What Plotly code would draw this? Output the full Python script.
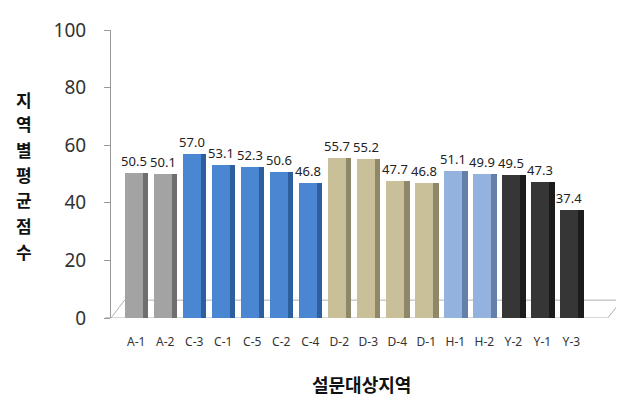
import plotly.graph_objects as go

categories = ["A-1", "A-2", "C-3", "C-1", "C-5", "C-2", "C-4", "D-2", "D-3", "D-4", "D-1",
              "H-1", "H-2", "Y-2", "Y-1", "Y-3"]
scores = [50.5, 50.1, 57.0, 53.1, 52.3, 50.6, 46.8, 55.7, 55.2, 47.7, 46.8, 51.1, 49.9, 49.5, 47.3, 37.4]
groups = ["A", "A", "C", "C", "C", "C", "C", "D", "D", "D", "D", "H", "H", "Y", "Y", "Y"]
y_ticks = [0, 20, 40, 60, 80, 100]
y_title_chars = ["지", "역", "별", "평", "균", "점", "수"]
x_title = "설문대상지역"

front_col = {"A": "#a3a3a3", "C": "#4a86d2", "D": "#c9c09a", "H": "#93b3de", "Y": "#363636"}
side_col = {"A": "#6e6e6e", "C": "#2d5f9e", "D": "#8f8868", "H": "#6480a8", "Y": "#1c1c1c"}

x_idx = list(range(len(categories)))

fig = go.Figure()
fig.add_trace(go.Bar(
    x=x_idx, y=scores, width=0.6, offset=-0.38,
    marker=dict(color=[front_col[g] for g in groups], line=dict(width=0)),
    text=[f"{v:.1f}" for v in scores], textposition="outside", constraintext="none",
    textfont=dict(family="Noto Sans", size=13, color="#222"),
    cliponaxis=False, hoverinfo="skip", showlegend=False,
))
fig.add_trace(go.Bar(
    x=x_idx, y=scores, width=0.2, offset=0.22,
    marker=dict(color=[side_col[g] for g in groups], line=dict(width=0)),
    hoverinfo="skip", showlegend=False,
))

# floor
fig.add_shape(type="path", xref="x", yref="y",
              path="M -0.87,0 L -0.4,6.2 L 16.75,6.2 L 16.25,0 Z",
              line=dict(color="#b0b0b0", width=1), fillcolor="white", layer="below")

# vertical y title: one upright character per line
char_px = [88, 113, 139, 165, 190, 216, 243]
for ch, py in zip(y_title_chars, char_px):
    fig.add_annotation(xref="paper", yref="paper", x=-0.17, y=(310 - py) / 292,
                       text=f"<b>{ch}</b>", showarrow=False,
                       font=dict(family="Noto Sans CJK KR", size=17, color="#111"),
                       xanchor="center", yanchor="middle")
fig.add_annotation(xref="paper", yref="paper", x=0.49, y=-0.23,
                   text=f"<b>{x_title}</b>", showarrow=False,
                   font=dict(family="Noto Sans CJK KR", size=18, color="#111"),
                   xanchor="center", yanchor="middle")

fig.update_layout(
    width=624, height=408,
    margin=dict(l=103, r=9, t=18, b=98),
    plot_bgcolor="white", paper_bgcolor="white",
    barmode="overlay", bargap=0,
    xaxis=dict(tickmode="array", tickvals=x_idx, ticktext=categories,
               range=[-0.87, 16.78], showgrid=False, zeroline=False, showline=False,
               ticks="", ticklabelstandoff=15,
               tickfont=dict(family="Noto Sans", size=12, color="#333")),
    yaxis=dict(range=[0, 100], tickvals=y_ticks, showgrid=False, zeroline=False,
               showline=True, linecolor="#999", linewidth=1,
               ticks="outside", ticklen=6, tickcolor="#999", ticklabelstandoff=14,
               tickfont=dict(family="Noto Sans", size=19, color="#333")),
)
fig.add_shape(type="line", xref="paper", yref="y", x0=-0.012, x1=0.0, y0=0, y1=0,
              line=dict(color="#999", width=1))

fig.write_html("out.html")
